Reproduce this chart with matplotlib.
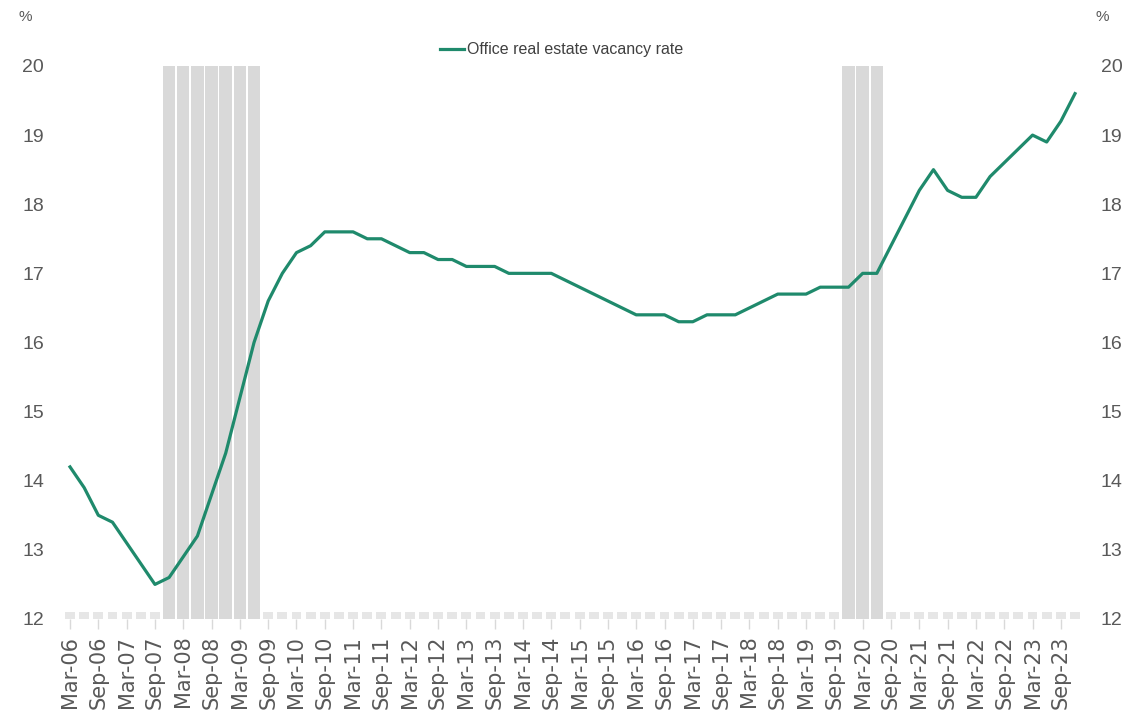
import numpy as np
import matplotlib.pyplot as plt

# quarterly office vacancy rate, Mar-06 .. Dec-23 (%)
vacancy = [14.2, 13.9, 13.5, 13.4, 13.1, 12.8, 12.5, 12.6, 12.9, 13.2,
           13.8, 14.4, 15.2, 16.0, 16.6, 17.0, 17.3, 17.4, 17.6, 17.6,
           17.6, 17.5, 17.5, 17.4, 17.3, 17.3, 17.2, 17.2, 17.1, 17.1,
           17.1, 17.0, 17.0, 17.0, 17.0, 16.9, 16.8, 16.7, 16.6, 16.5,
           16.4, 16.4, 16.4, 16.3, 16.3, 16.4, 16.4, 16.4, 16.5, 16.6,
           16.7, 16.7, 16.7, 16.8, 16.8, 16.8, 17.0, 17.0, 17.4, 17.8,
           18.2, 18.5, 18.2, 18.1, 18.1, 18.4, 18.6, 18.8, 19.0, 18.9,
           19.2, 19.6]

# 1 = recession quarter
recession = [0, 0, 0, 0, 0, 0, 0, 1, 1, 1, 1, 1, 1, 1, 0, 0, 0, 0, 0, 0,
             0, 0, 0, 0, 0, 0, 0, 0, 0, 0, 0, 0, 0, 0, 0, 0, 0, 0, 0, 0,
             0, 0, 0, 0, 0, 0, 0, 0, 0, 0, 0, 0, 0, 0, 0, 1, 1, 1, 0, 0,
             0, 0, 0, 0, 0, 0, 0, 0, 0, 0, 0, 0]

tick_labels = ['Mar-06', 'Sep-06', 'Mar-07', 'Sep-07', 'Mar-08', 'Sep-08',
               'Mar-09', 'Sep-09', 'Mar-10', 'Sep-10', 'Mar-11', 'Sep-11',
               'Mar-12', 'Sep-12', 'Mar-13', 'Sep-13', 'Mar-14', 'Sep-14',
               'Mar-15', 'Sep-15', 'Mar-16', 'Sep-16', 'Mar-17', 'Sep-17',
               'Mar-18', 'Sep-18', 'Mar-19', 'Sep-19', 'Mar-20', 'Sep-20',
               'Mar-21', 'Sep-21', 'Mar-22', 'Sep-22', 'Mar-23', 'Sep-23']

y_min, y_max = 12, 20
green = '#1f8a6c'
grey_txt = '#595959'
narrow = ['Liberation Sans', 'DejaVu Sans']

x = np.arange(len(vacancy))
rec = np.array(recession)

fig = plt.figure(figsize=(11.24, 7.21), dpi=100)
ax = fig.add_axes([0.056, 0.1415, 0.9067, 0.767])

# recession shading, plus the faint stubs on the other quarters
ax.bar(x[rec == 1], y_max - y_min, bottom=y_min, width=0.88,
       color='#d9d9d9', zorder=1)
ax.bar(x[rec == 0], 0.1, bottom=y_min, width=0.7,
       color='#e6e6e6', zorder=1)

ax.plot(x, vacancy, color=green, lw=2.3, zorder=3,
        label='Office real estate vacancy rate')

ax.set_xlim(-0.5, len(vacancy) - 0.5)
ax.set_ylim(y_min, y_max)
for s in ax.spines.values():
    s.set_visible(False)

ax.set_xticks(x[::2])
ax.set_xticklabels(tick_labels, rotation=90, fontsize=15, color=grey_txt,
                   family='DejaVu Sans')
ax.tick_params(axis='x', length=7, width=1, color='#d9d9d9', pad=5)

ax.set_yticks(range(y_min, y_max + 1))
ax.set_yticklabels([str(v) for v in range(y_min, y_max + 1)])
ax.tick_params(axis='y', left=False, right=False, labelleft=True,
               labelright=True, labelsize=14, labelcolor=grey_txt, pad=10)
for t in ax.get_yticklabels():
    t.set_family(narrow)

fig.text(25 / 1124, 1 - 17 / 721, '%', ha='center', va='center',
         fontsize=11, color=grey_txt, family=narrow)
fig.text(1102 / 1124, 1 - 17 / 721, '%', ha='center', va='center',
         fontsize=11, color=grey_txt, family=narrow)

ax.legend(loc='center', bbox_to_anchor=(0.4996, 0.931),
          bbox_transform=fig.transFigure, frameon=False,
          handlelength=1.5, handletextpad=0.15,
          prop={'family': narrow, 'size': 11.5}, labelcolor='#404040')

plt.savefig('out.png', dpi=100)
